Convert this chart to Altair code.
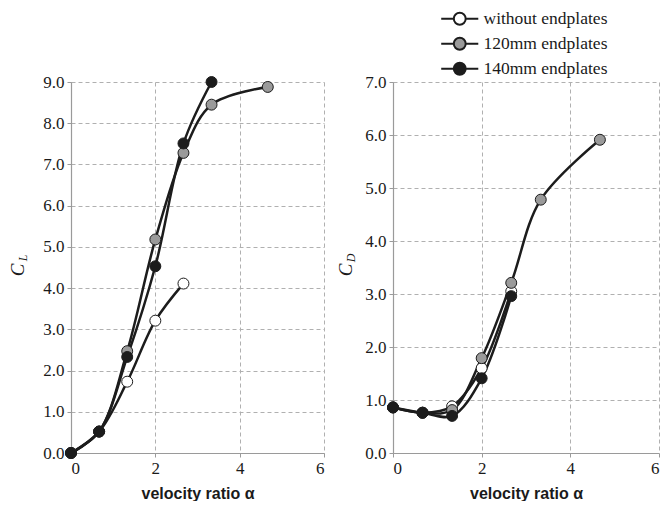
import altair as alt
import pandas as pd

alpha = [0, 0.667, 1.333, 2.0, 2.667, 3.333, 4.667]
series_names = ["without endplates", "120mm endplates", "140mm endplates"]
fills = ["#ffffff", "#9a9a9a", "#1c1c1c"]

CL_without = [0, 0.52, 1.73, 3.21, 4.11]
CL_120 = [0, 0.52, 2.47, 5.18, 7.28, 8.45, 8.88]
CL_140 = [0, 0.52, 2.33, 4.53, 7.51, 9.0]

CD_without = [0.86, 0.76, 0.88, 1.6, 3.05]
CD_120 = [0.86, 0.76, 0.81, 1.79, 3.21, 4.78, 5.91]
CD_140 = [0.86, 0.76, 0.70, 1.41, 2.96]


def frame(vals_list):
    rows = []
    for i, (name, vals) in enumerate(zip(series_names, vals_list)):
        for x, y in zip(alpha, vals):
            rows.append({"alpha": x, "val": y, "series": name, "ord": i})
    return pd.DataFrame(rows)


df_L = frame([CL_without, CL_120, CL_140])
df_D = frame([CD_without, CD_120, CD_140])

LINE = "#1c1c1c"
SERIF = "Liberation Serif"
W_L, W_R, H = 253, 266, 371

legend_symbol = "M-2.5,0H-0.8M0.8,0H2.5M-0.8,0A0.8,0.8 0 1,0 0.8,0A0.8,0.8 0 1,0 -0.8,0Z"


def panel(df, ymax, width, sub, sub_x, show_legend):
    xenc = alt.X("alpha:Q", scale=alt.Scale(domain=[0, 6], nice=False),
                 axis=alt.Axis(values=[0, 2, 4, 6], title="velocity ratio α", format="d",
                               labelFont=SERIF, labelFontSize=17))
    yenc = alt.Y("val:Q", scale=alt.Scale(domain=[0, ymax], nice=False),
                 axis=alt.Axis(values=list(range(0, ymax + 1)), format=".1f", title=None,
                               labelFont=SERIF, labelFontSize=17))
    base = alt.Chart(df)
    lines = base.mark_line(interpolate="catmull-rom", color=LINE, strokeWidth=2.5).encode(
        x=xenc, y=yenc, detail="series:N", order="alpha:Q")
    if show_legend:
        leg = alt.Legend(title=None, orient="none", legendX=58, legendY=-72,
                         symbolType=legend_symbol, symbolSize=220,
                         symbolStrokeColor=LINE, symbolStrokeWidth=2,
                         symbolOpacity=1,
                         labelFont=SERIF, labelFontSize=17.5,
                         labelColor="#1a1a1a", rowPadding=4, labelOffset=15)
    else:
        leg = None
    pts = base.mark_point(shape="circle", filled=True, size=120, stroke=LINE,
                          strokeWidth=1, opacity=1).encode(
        x=xenc, y=yenc,
        fill=alt.Fill("series:N", scale=alt.Scale(domain=series_names, range=fills),
                      legend=leg),
        order="ord:Q")
    tdf = pd.DataFrame({"t": ["C"], "s": [sub]})
    c_txt = alt.Chart(tdf).mark_text(angle=270, font=SERIF, fontSize=19,
                                     fontStyle="italic", color="#1a1a1a").encode(
        text="t:N", x=alt.value(sub_x), y=alt.value(188))
    s_txt = alt.Chart(tdf).mark_text(angle=270, font=SERIF, fontSize=12,
                                     fontStyle="italic", color="#1a1a1a").encode(
        text="s:N", x=alt.value(sub_x + 5), y=alt.value(176))
    return alt.layer(lines, pts, c_txt, s_txt).properties(width=width, height=H)


left = panel(df_L, 9, W_L, "L", -53, False)
right = panel(df_D, 7, W_R, "D", -47, True)

chart = alt.hconcat(left, right, spacing=12).resolve_legend(fill="independent").properties(
    padding={"left": 1, "top": 2, "right": 0, "bottom": 0}
).configure_view(stroke=None).configure_axis(
    grid=True, gridColor="#b0b0b0", gridDash=[4, 3], gridWidth=1,
    domainColor="#9a9a9a", domainWidth=1.2, tickColor="#9a9a9a", tickSize=4,
    labelFont=SERIF, labelFontSize=17, labelColor="#1a1a1a",
    labelPadding=3,
    titleFont="Liberation Sans", titleFontSize=16, titleFontWeight="bold",
    titleColor="#1a1a1a", titlePadding=9
)

chart.save("out.html", embed_options={"renderer": "svg", "actions": False})
